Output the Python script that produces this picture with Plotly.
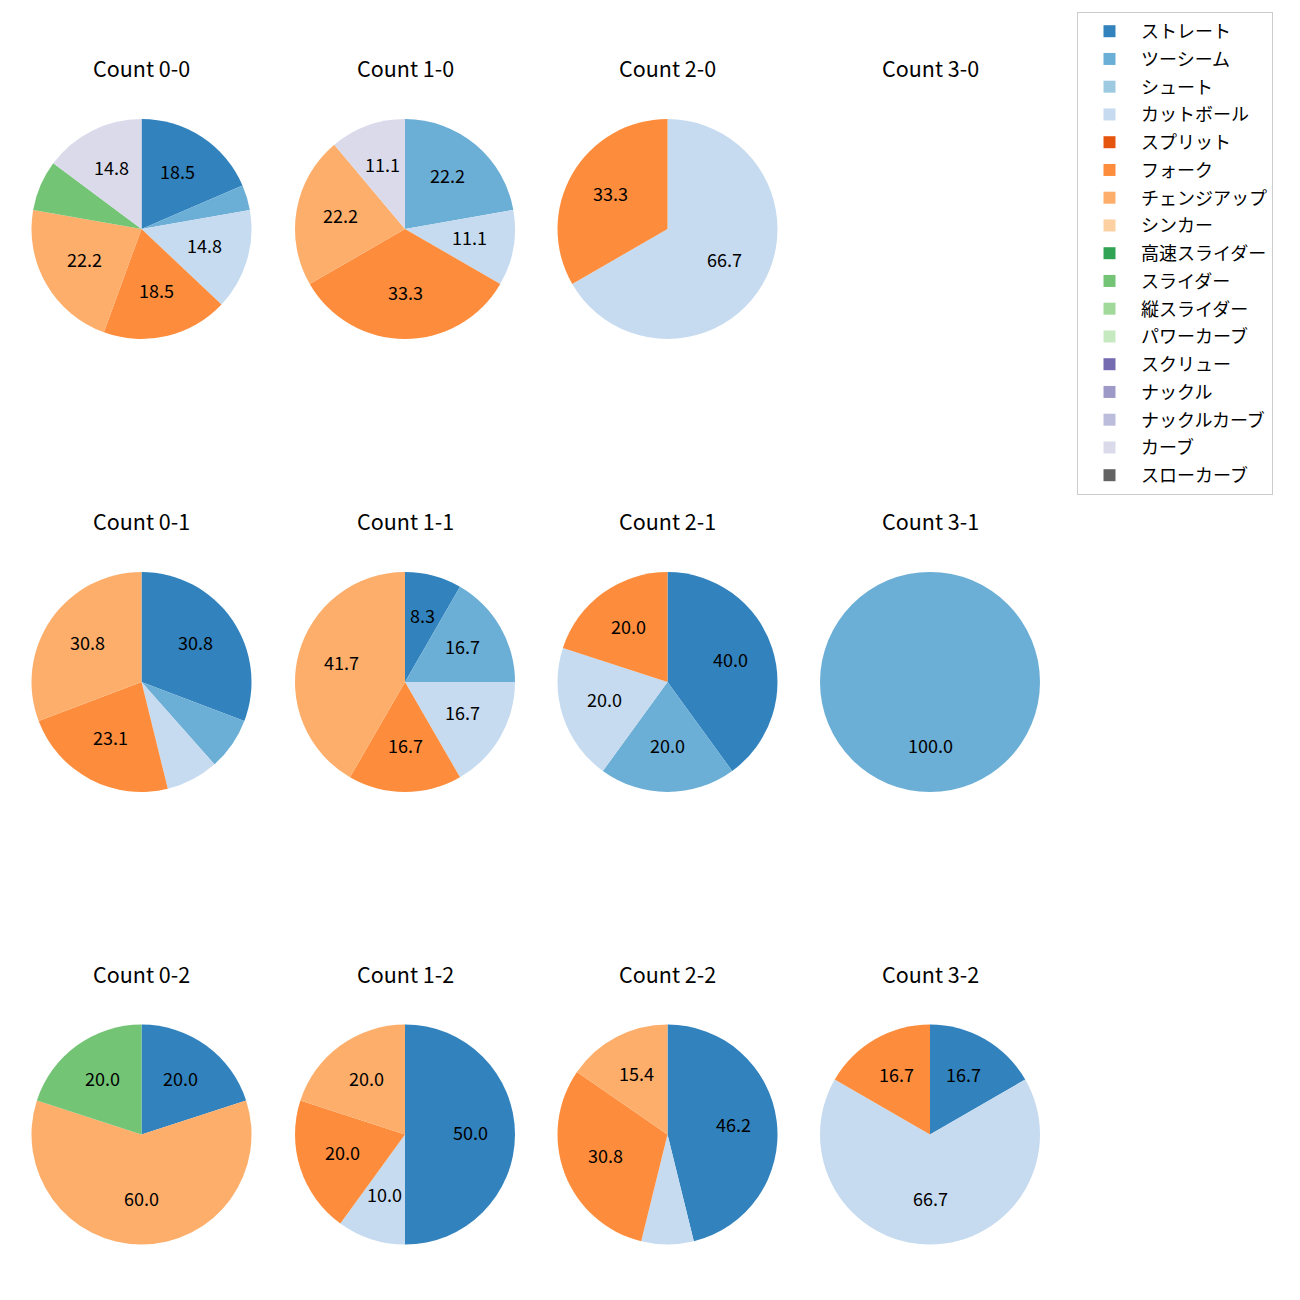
import math
import plotly.graph_objects as go

# ---------------- data ----------------
pitch_types = ["ストレート", "ツーシーム", "シュート", "カットボール", "スプリット", "フォーク",
               "チェンジアップ", "シンカー", "高速スライダー", "スライダー", "縦スライダー",
               "パワーカーブ", "スクリュー", "ナックル", "ナックルカーブ", "カーブ", "スローカーブ"]

count_names = ["0-0", "1-0", "2-0", "3-0",
               "0-1", "1-1", "2-1", "3-1",
               "0-2", "1-2", "2-2", "3-2"]

# pitch counts per count situation, in pitch_types order
count_0_0 = [5, 1, 0, 4, 0, 5, 6, 0, 0, 2, 0, 0, 0, 0, 0, 4, 0]
count_1_0 = [0, 2, 0, 1, 0, 3, 2, 0, 0, 0, 0, 0, 0, 0, 0, 1, 0]
count_2_0 = [0, 0, 0, 2, 0, 1, 0, 0, 0, 0, 0, 0, 0, 0, 0, 0, 0]
count_3_0 = [0, 0, 0, 0, 0, 0, 0, 0, 0, 0, 0, 0, 0, 0, 0, 0, 0]
count_0_1 = [4, 1, 0, 1, 0, 3, 4, 0, 0, 0, 0, 0, 0, 0, 0, 0, 0]
count_1_1 = [1, 2, 0, 2, 0, 2, 5, 0, 0, 0, 0, 0, 0, 0, 0, 0, 0]
count_2_1 = [2, 1, 0, 1, 0, 1, 0, 0, 0, 0, 0, 0, 0, 0, 0, 0, 0]
count_3_1 = [0, 1, 0, 0, 0, 0, 0, 0, 0, 0, 0, 0, 0, 0, 0, 0, 0]
count_0_2 = [1, 0, 0, 0, 0, 0, 3, 0, 0, 1, 0, 0, 0, 0, 0, 0, 0]
count_1_2 = [5, 0, 0, 1, 0, 2, 2, 0, 0, 0, 0, 0, 0, 0, 0, 0, 0]
count_2_2 = [6, 0, 0, 1, 0, 4, 2, 0, 0, 0, 0, 0, 0, 0, 0, 0, 0]
count_3_2 = [1, 0, 0, 4, 0, 1, 0, 0, 0, 0, 0, 0, 0, 0, 0, 0, 0]

count_values = [count_0_0, count_1_0, count_2_0, count_3_0,
                count_0_1, count_1_1, count_2_1, count_3_1,
                count_0_2, count_1_2, count_2_2, count_3_2]

# ---------------- style ----------------
colors = ["#3182bd", "#6baed6", "#9ecae1", "#c6dbef", "#e6550d", "#fd8d3c",
          "#fdae6b", "#fdd0a2", "#31a354", "#74c476", "#a1d99b", "#c7e9c0",
          "#756bb1", "#9e9ac8", "#bcbddc", "#dadaeb", "#636363"]

OFF = 8            # page body margin
W = H = 1300 - OFF  # figure size so that the page is 1300 px
FONT = "Noto Sans CJK JP, Noto Sans, sans-serif"
col_x = [141.5, 405, 667.5, 930]
row_y = [229, 682, 1134.5]
radius = 110
title_offset = 161
label_dy = -3
label_min_pct = 8.0


def px_x(p):
    return (p - OFF) / W


def px_y(p):
    return 1 - (p - OFF) / H


fig = go.Figure()
annotations = []

for idx, (name, vals) in enumerate(zip(count_names, count_values)):
    r_i, c_i = divmod(idx, 4)
    cx, cy = col_x[c_i], row_y[r_i]
    annotations.append(dict(
        text="Count " + name, x=px_x(cx), y=px_y(cy - title_offset),
        xref="paper", yref="paper", xanchor="center", yanchor="middle",
        showarrow=False, font=dict(size=21.5, color="black", family=FONT)))
    labs = [p for p, v in zip(pitch_types, vals) if v > 0]
    vs = [v for v in vals if v > 0]
    cols = [c for c, v in zip(colors, vals) if v > 0]
    total = sum(vs)
    if total == 0:
        continue
    fig.add_trace(go.Pie(
        labels=labs, values=vs, sort=False, direction="clockwise", rotation=0,
        marker=dict(colors=cols, line=dict(width=0)), textinfo="none",
        showlegend=False, hoverinfo="label+percent",
        domain=dict(x=[px_x(cx - radius), px_x(cx + radius)],
                    y=[px_y(cy + radius), px_y(cy - radius)])))
    cum = 0
    for v in vs:
        pct = 100.0 * v / total
        ang = math.radians(90 - 360.0 * (cum + v / 2.0) / total)
        cum += v
        if pct < label_min_pct:
            continue
        lx = cx + 0.6 * radius * math.cos(ang)
        ly = cy - 0.6 * radius * math.sin(ang) + label_dy
        annotations.append(dict(
            text=f"{pct:.1f}", x=px_x(lx), y=px_y(ly), xref="paper", yref="paper",
            xanchor="center", yanchor="middle", showarrow=False,
            font=dict(size=18, color="black", family=FONT)))

# legend entries: one tiny pie per pitch type (practically invisible)
for p, c in zip(pitch_types, colors):
    fig.add_trace(go.Pie(
        labels=[p], values=[1], marker=dict(colors=[c], line=dict(width=0)),
        textinfo="none", showlegend=True, legendgroup=p, hoverinfo="skip",
        domain=dict(x=[0.999, 0.99905], y=[0.0, 0.00005])))

fig.update_layout(
    width=W, height=H, autosize=False,
    margin=dict(l=0, r=0, t=0, b=0),
    paper_bgcolor="white", plot_bgcolor="white",
    font=dict(family=FONT, size=18, color="black"),
    annotations=annotations,
    legend=dict(x=px_x(1077), y=px_y(12), xanchor="left", yanchor="top",
                bgcolor="white", bordercolor="#cccccc", borderwidth=1,
                traceorder="grouped", tracegroupgap=1.35, itemwidth=53,
                font=dict(size=18, family=FONT, color="black")),
)

fig.write_html("out.html")
